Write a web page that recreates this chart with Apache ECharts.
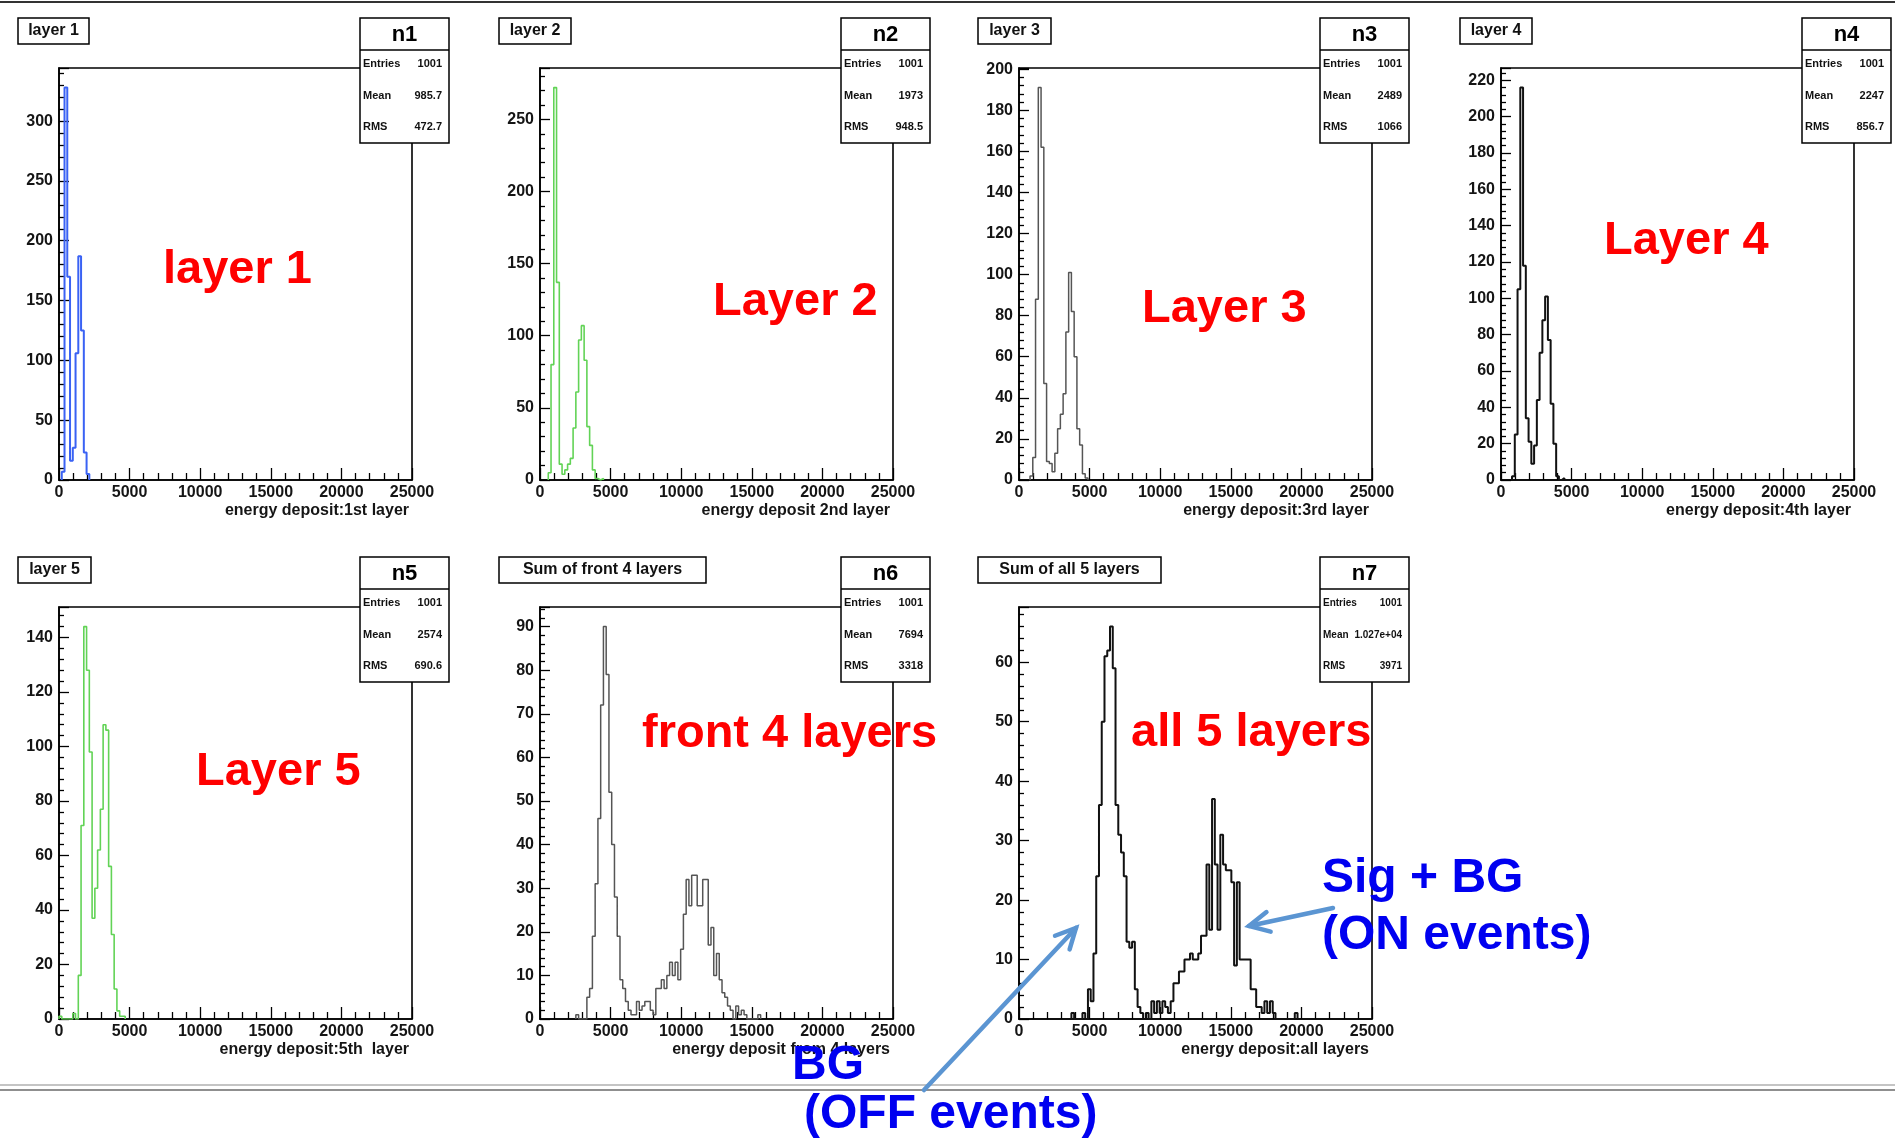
<!DOCTYPE html>
<html>
<head>
<meta charset="utf-8">
<title>energy deposit per layer</title>
<script src="https://cdn.jsdelivr.net/npm/echarts@6/dist/echarts.min.js"></script>
<style>
  html, body { margin: 0; padding: 0; background: #fff; }
  #main { width: 1895px; height: 1143px; }
</style>
</head>
<body>
<div id="main"></div>
<script>
// ROOT histograms: 128 bins over 0..25000
var binWidth = 25000 / 128;

// counts per bin, first value sits in bin index *Start
var layer1Start = 1;
var layer1Counts = [7, 328, 170, 16, 27, 106, 187, 125, 23, 5];

var layer2Start = 3;
var layer2Counts = [5, 80, 272, 137, 11, 4, 7, 11, 15, 36, 61, 97, 107, 83, 37, 24, 7, 1, 0, 1];

var layer3Start = 4;
var layer3Counts = [2, 11, 88, 191, 162, 47, 9, 8, 4, 13, 25, 32, 42, 72, 101, 82, 60, 25, 17, 3, 1];

var layer4Start = 4;
var layer4Counts = [2, 25, 105, 216, 118, 34, 21, 9, 19, 44, 70, 88, 101, 77, 42, 20, 2, 0, 1];

var layer5Start = 0;
var layer5Counts = [1, 0, 0, 0, 0, 2, 0, 16, 71, 144, 128, 98, 37, 48, 62, 77, 108, 106, 56, 31, 11, 3, 1, 1];

var front4Start = 13;
var front4Counts = [1, 0, 0, 0,
  5, 7, 19, 31, 46, 72, 90, 79, 52, 40, 28, 19, 9, 7, 4, 2, 1, 1,
  4, 2, 3, 4, 4, 2, 1, 7, 7, 9, 7, 10, 13, 10, 13, 9, 16, 24, 32, 26,
  33, 33, 26, 26, 32, 32, 17, 21, 10, 15, 9, 6, 5, 3, 2, 0, 3, 1, 2, 1,
  0, 0, 0, 0, 1];

var all5Start = 19;
var all5Counts = [1, 0, 0, 0, 1, 0,
  5, 3, 11, 24, 36, 50, 61, 62, 66, 59, 36, 31, 28, 24, 13, 12, 13, 5, 2, 1,
  0, 1, 0, 3, 1, 3, 1, 3, 2, 1,
  3, 6, 6, 8, 8, 10, 10, 11, 10, 10, 11, 14, 14, 26, 15, 37, 26, 15, 31, 26,
  25, 25, 23, 9, 23, 10, 10, 10, 10, 5, 5, 2, 2, 1, 3, 1, 3, 1,
  0, 0, 0, 0, 0, 0, 0, 1];

var histStarts = [layer1Start, layer2Start, layer3Start, layer4Start, layer5Start, front4Start, all5Start];
var histCounts = [layer1Counts, layer2Counts, layer3Counts, layer4Counts, layer5Counts, front4Counts, all5Counts];

// axis ticks
var xMax = 25000;
var xStep = 5000;
var yStep = [50, 50, 20, 20, 20, 10, 10];

// texts
var panelTitles = ['layer 1', 'layer 2', 'layer 3', 'layer 4', 'layer 5', 'Sum of front 4 layers', 'Sum of all 5 layers'];
var xTitles = ['energy deposit:1st layer', 'energy deposit 2nd layer', 'energy deposit:3rd layer',
  'energy deposit:4th layer', 'energy deposit:5th  layer', 'energy deposit from 4 layers', 'energy deposit:all layers'];
var statNames = ['n1', 'n2', 'n3', 'n4', 'n5', 'n6', 'n7'];
var statEntries = ['1001', '1001', '1001', '1001', '1001', '1001', '1001'];
var statMean = ['985.7', '1973', '2489', '2247', '2574', '7694', '1.027e+04'];
var statRms = ['472.7', '948.5', '1066', '856.7', '690.6', '3318', '3971'];
var bigLabels = ['layer 1', 'Layer 2', 'Layer 3', 'Layer 4', 'Layer 5', 'front 4 layers', 'all 5 layers'];

// layout
var FONT = "'Liberation Sans', Arial, Helvetica, sans-serif";
var colLeft = [59, 540, 1019, 1501];
var rowTop = [68, 607];
var plotW = 353, plotH = 412;
var titleW = [71, 72, 73, 72, 73, 207, 183];
var lineColors = ['#3a62f4', '#62d356', '#555555', '#111111', '#62d356', '#555555', '#111111'];
var lineWidths = [2, 1.6, 1.5, 2, 1.6, 1.5, 2];
var bigPos = [[163, 270], [713, 302], [1142, 309], [1604, 241], [196, 772], [642, 734], [1131, 733]];

function histPoints(start, counts) {
  var pts = [[start * binWidth, 0]];
  for (var i = 0; i < counts.length; i++) {
    pts.push([(start + i) * binWidth, counts[i]]);
  }
  pts.push([(start + counts.length) * binWidth, 0]);
  return pts;
}

function txt(s, x, y, font, color, align) {
  return {
    type: 'text', z: 100, silent: true,
    style: {
      text: s, x: x, y: y, font: font, fill: color,
      align: align, textAlign: align,
      verticalAlign: 'middle', textVerticalAlign: 'middle'
    }
  };
}

function plainNumber(v) {
  return String(v);
}

var grids = [], xAxes = [], yAxes = [], series = [], graphics = [];

for (var p = 0; p < 7; p++) {
  var r = p < 4 ? 0 : 1;
  var c = p < 4 ? p : p - 4;
  var gl = colLeft[c], gt = rowTop[r];
  var peak = Math.max.apply(null, histCounts[p]);

  grids.push({
    left: gl, top: gt, width: plotW, height: plotH,
    show: true, borderColor: '#000', borderWidth: 1.6,
    containLabel: false, outerBoundsMode: 'none'
  });

  xAxes.push({
    gridIndex: p, type: 'value', min: 0, max: xMax, interval: xStep,
    axisLine: { show: true, onZero: false, lineStyle: { color: '#000', width: 1.6 } },
    axisTick: { show: true, inside: true, length: 12, lineStyle: { color: '#000', width: 1.3 } },
    minorTick: { show: true, splitNumber: 5, length: 7, lineStyle: { color: '#000', width: 1.3 } },
    splitLine: { show: false },
    minorSplitLine: { show: false },
    axisLabel: { margin: 5, color: '#151515', fontSize: 16, fontWeight: 'bold', fontFamily: FONT, formatter: plainNumber }
  });

  yAxes.push({
    gridIndex: p, type: 'value', min: 0, max: peak * 1.05, interval: yStep[p],
    axisLine: { show: true, onZero: false, lineStyle: { color: '#000', width: 1.6 } },
    axisTick: { show: true, inside: true, length: 10, lineStyle: { color: '#000', width: 1.3 } },
    minorTick: { show: true, splitNumber: 5, length: 5, lineStyle: { color: '#000', width: 1.3 } },
    splitLine: { show: false },
    minorSplitLine: { show: false },
    axisLabel: { margin: 6, color: '#151515', fontSize: 16, fontWeight: 'bold', fontFamily: FONT, showMaxLabel: false, formatter: plainNumber }
  });

  series.push({
    type: 'line', xAxisIndex: p, yAxisIndex: p,
    step: 'end', symbol: 'none', showSymbol: false,
    data: histPoints(histStarts[p], histCounts[p]),
    lineStyle: { color: lineColors[p], width: lineWidths[p] },
    z: 3
  });

  // title box
  var tx = gl - 41, ty = gt - 50;
  graphics.push({
    type: 'rect', z: 90, silent: true,
    shape: { x: tx, y: ty, width: titleW[p], height: 26 },
    style: { fill: '#fff', stroke: '#000', lineWidth: 1.5 }
  });
  graphics.push(txt(panelTitles[p], tx + titleW[p] / 2, ty + 13, 'bold 16px ' + FONT, '#111', 'center'));

  // stats box
  var sx = gl + 301, sy = gt - 50, sw = 89;
  graphics.push({
    type: 'rect', z: 90, silent: true,
    shape: { x: sx, y: sy, width: sw, height: 125 },
    style: { fill: '#fff', stroke: '#000', lineWidth: 1.5 }
  });
  graphics.push({
    type: 'line', z: 91, silent: true,
    shape: { x1: sx, y1: sy + 32, x2: sx + sw, y2: sy + 32 },
    style: { stroke: '#000', lineWidth: 1.5 }
  });
  graphics.push(txt(statNames[p], sx + sw / 2, sy + 17, 'bold 22px ' + FONT, '#000', 'center'));
  var sf = (p === 6 ? 'bold 10px ' : 'bold 11px ') + FONT;
  graphics.push(txt('Entries', sx + 3, sy + 46, sf, '#111', 'left'));
  graphics.push(txt(statEntries[p], sx + sw - 7, sy + 46, sf, '#111', 'right'));
  graphics.push(txt('Mean', sx + 3, sy + 78, sf, '#111', 'left'));
  graphics.push(txt(statMean[p], sx + sw - 7, sy + 78, sf, '#111', 'right'));
  graphics.push(txt('RMS', sx + 3, sy + 109, sf, '#111', 'left'));
  graphics.push(txt(statRms[p], sx + sw - 7, sy + 109, sf, '#111', 'right'));

  // x axis title
  graphics.push(txt(xTitles[p], gl + plotW - 3, gt + plotH + 31, 'bold 16px ' + FONT, '#151515', 'right'));

  // red label
  graphics.push(txt(bigLabels[p], bigPos[p][0], bigPos[p][1], 'bold 47px ' + FONT, '#ff0000', 'left'));
}

// slide frame lines
graphics.push({ type: 'line', z: 50, silent: true, shape: { x1: 0, y1: 2, x2: 1895, y2: 2 }, style: { stroke: '#333', lineWidth: 2 } });
graphics.push({ type: 'line', z: 50, silent: true, shape: { x1: 0, y1: 1085, x2: 1895, y2: 1085 }, style: { stroke: '#b0b0b0', lineWidth: 1.5 } });
graphics.push({ type: 'line', z: 50, silent: true, shape: { x1: 0, y1: 1090, x2: 1895, y2: 1090 }, style: { stroke: '#6a6a6a', lineWidth: 1.5 } });

// arrows
function arrow(x1, y1, x2, y2) {
  var a = Math.atan2(y2 - y1, x2 - x1);
  var len = 20, half = 10;
  var bx = x2 - len * Math.cos(a), by = y2 - len * Math.sin(a);
  var nx = -Math.sin(a), ny = Math.cos(a);
  graphics.push({
    type: 'line', z: 110, silent: true,
    shape: { x1: x1, y1: y1, x2: x2, y2: y2 },
    style: { stroke: '#5b95d2', lineWidth: 4.5, lineCap: 'round' }
  });
  graphics.push({
    type: 'polyline', z: 110, silent: true,
    shape: { points: [[bx + nx * half, by + ny * half], [x2, y2], [bx - nx * half, by - ny * half]] },
    style: { stroke: '#5b95d2', lineWidth: 4.5, fill: null, lineJoin: 'miter', lineCap: 'round' }
  });
}
arrow(1333, 908, 1249, 926);
arrow(924, 1090, 1076, 928);

// blue annotations
var BLUE = '#0000f0';
graphics.push(txt('Sig + BG', 1322, 879, 'bold 48px ' + FONT, BLUE, 'left'));
graphics.push(txt('(ON events)', 1322, 936, 'bold 48px ' + FONT, BLUE, 'left'));
graphics.push(txt('BG', 792, 1066, 'bold 48px ' + FONT, BLUE, 'left'));
graphics.push(txt('(OFF events)', 804, 1115, 'bold 48px ' + FONT, BLUE, 'left'));

var chart = echarts.init(document.getElementById('main'));
chart.setOption({
  backgroundColor: '#ffffff',
  animation: false,
  grid: grids,
  xAxis: xAxes,
  yAxis: yAxes,
  series: series,
  graphic: graphics
});
window.addEventListener('resize', function () { chart.resize(); });
</script>
</body>
</html>
